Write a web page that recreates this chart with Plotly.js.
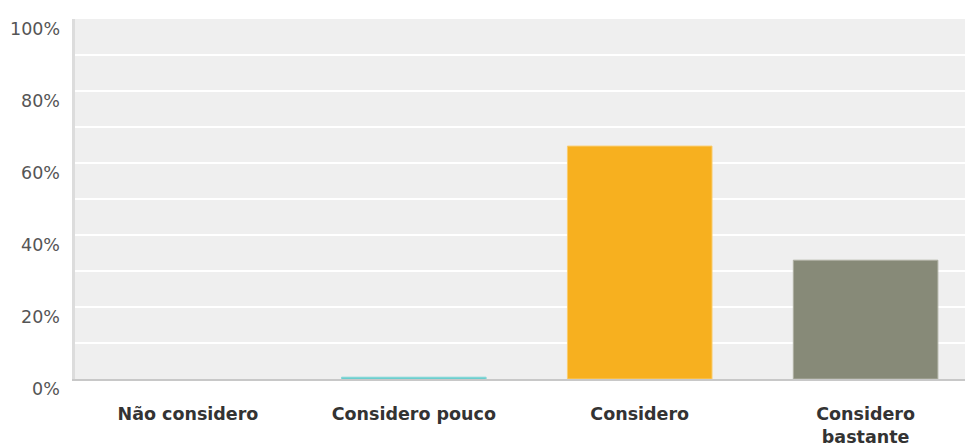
<!DOCTYPE html>
<html>
<head>
<meta charset="utf-8">
<script src="https://cdn.plot.ly/plotly-3.0.1.min.js"></script>
<style>html,body{margin:0;padding:0;background:#fff;}#chart{width:965px;height:444px;}</style>
</head>
<body>
<div id="chart"></div>
<script>
const categories = ["Não considero", "Considero pouco", "Considero", "Considero<br>bastante"];
const values = [0, 0.5, 64.7, 33.0];
const barColors = ["#5fa8d3", "#4dc3c3", "#f7b01f", "#878a78"];
const borderColors = ["#5fa8d3", "#8ad9d9", "#f9cc6e", "#aeb0a2"];
const yTickVals = [0, 20, 40, 60, 80, 100];
const yTickText = ["0%", "20%", "40%", "60%", "80%", "100%"];

const yLabelAnnotations = yTickVals.map((v, i) => ({
  xref: "paper", yref: "y", x: 0, y: v,
  xanchor: "right", yanchor: "middle",
  xshift: -13, yshift: -10,
  showarrow: false,
  text: yTickText[i],
  font: {family: "DejaVu Sans, Verdana, sans-serif", size: 17.5, color: "#555555"}
}));

Plotly.newPlot("chart", [{
  type: "bar",
  x: categories,
  y: values,
  width: 0.64,
  marker: {color: barColors, line: {color: borderColors, width: values.map(v => v > 0 ? 1 : 0)}},
  hoverinfo: "none"
}], {
  width: 965, height: 444,
  margin: {l: 75, r: 0, t: 19, b: 65},
  paper_bgcolor: "#ffffff",
  plot_bgcolor: "#efefef",
  showlegend: false,
  annotations: yLabelAnnotations,
  xaxis: {
    type: "category",
    range: [-0.5, 3.44],
    showgrid: false,
    showline: true, linecolor: "#c8c8c8", linewidth: 2,
    ticks: "",
    ticklabelstandoff: 18,
    tickfont: {family: "DejaVu Sans, Verdana, sans-serif", size: 17.5, color: "#333333", weight: "bold"}
  },
  yaxis: {
    range: [0, 100],
    tickvals: yTickVals,
    ticktext: yTickText,
    showticklabels: false,
    showgrid: true, gridcolor: "#ffffff", gridwidth: 2,
    minor: {dtick: 10, tick0: 0, showgrid: true, gridcolor: "#ffffff", gridwidth: 2},
    zeroline: false,
    showline: true, linecolor: "#dcdcdc", linewidth: 3,
    ticks: ""
  }
}, {staticPlot: true});
</script>
</body>
</html>
